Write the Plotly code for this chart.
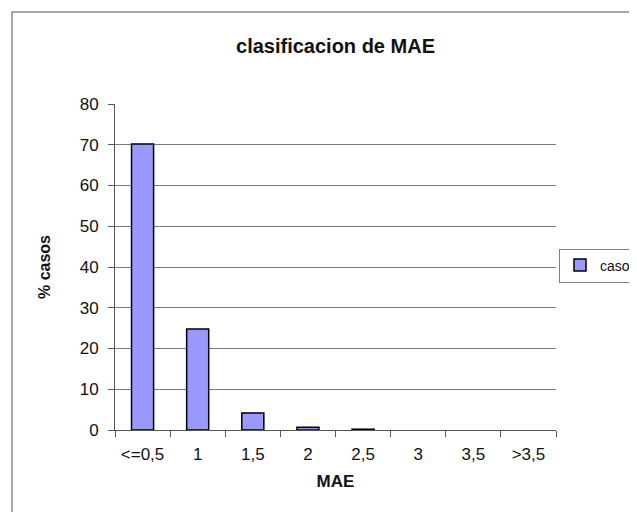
import plotly.graph_objects as go

categories = ["<=0,5", "1", "1,5", "2", "2,5", "3", "3,5", ">3,5"]
casos = [70.2, 24.8, 4.2, 0.7, 0.2, 0, 0, 0]
y_ticks = [0, 10, 20, 30, 40, 50, 60, 70, 80]

# page body has an 8px margin: figure coordinates = reference pixels - 8
OFF = 8
W, H = 637 - OFF, 512 - OFF
L, R, T, B = 115 - OFF, 556 - OFF, 104 - OFF, 430 - OFF  # plot area

fig = go.Figure()
fig.add_trace(go.Bar(
    x=categories, y=casos, name="casos",
    marker=dict(color="#9999FF",
                line=dict(color="#000000", width=[1.5 if v > 0 else 0 for v in casos])),
))

def px_x(p):
    return (p - OFF - L) / (R - L)

def px_y(p):
    return (B - (p - OFF)) / (B - T)

fig.update_layout(
    width=W, height=H,
    margin=dict(l=L, r=W - R, t=T, b=H - B, autoexpand=False),
    paper_bgcolor="white", plot_bgcolor="white",
    font=dict(family="Liberation Sans, Arial, sans-serif", color="#111111"),
    bargap=0.6,
    showlegend=True,
    title=dict(text="<b>clasificacion de MAE</b>", font=dict(size=20, color="#111111"),
               x=0.5, xref="paper", xanchor="center",
               y=1 - (46 - OFF) / H, yref="container", yanchor="middle"),
    legend=dict(x=px_x(559), y=px_y(265.5), xanchor="left", yanchor="middle",
                bordercolor="#808080", borderwidth=1, bgcolor="white",
                font=dict(size=14, color="#111111"), itemwidth=30),
    xaxis=dict(
        type="category", categoryorder="array", categoryarray=categories,
        showline=True, linecolor="#555555", linewidth=1,
        ticks="outside", ticklen=6, tickcolor="#555555", tickson="boundaries",
        tickfont=dict(size=17, color="#111111"), ticklabelstandoff=9,
        showgrid=False, automargin=False,
        title=dict(text="<b>MAE</b>", font=dict(size=17, color="#111111"), standoff=11),
    ),
    yaxis=dict(
        range=[0, 80], tickvals=y_ticks,
        showline=True, linecolor="#555555", linewidth=1,
        ticks="outside", ticklen=6, tickcolor="#555555",
        tickfont=dict(size=17, color="#111111"), ticklabelstandoff=6,
        showgrid=True, gridcolor="#7a7a7a", gridwidth=1,
        zeroline=False, automargin=False,
        title=dict(text="<b>% casos</b>", font=dict(size=16, color="#111111"), standoff=25),
    ),
    shapes=[dict(type="rect", xref="paper", yref="paper",
                 x0=px_x(12), x1=px_x(700), y0=px_y(560), y1=px_y(12),
                 line=dict(color="#8c8c8c", width=1.5), fillcolor="rgba(0,0,0,0)",
                 layer="below")],
)

fig.write_html("out.html")
